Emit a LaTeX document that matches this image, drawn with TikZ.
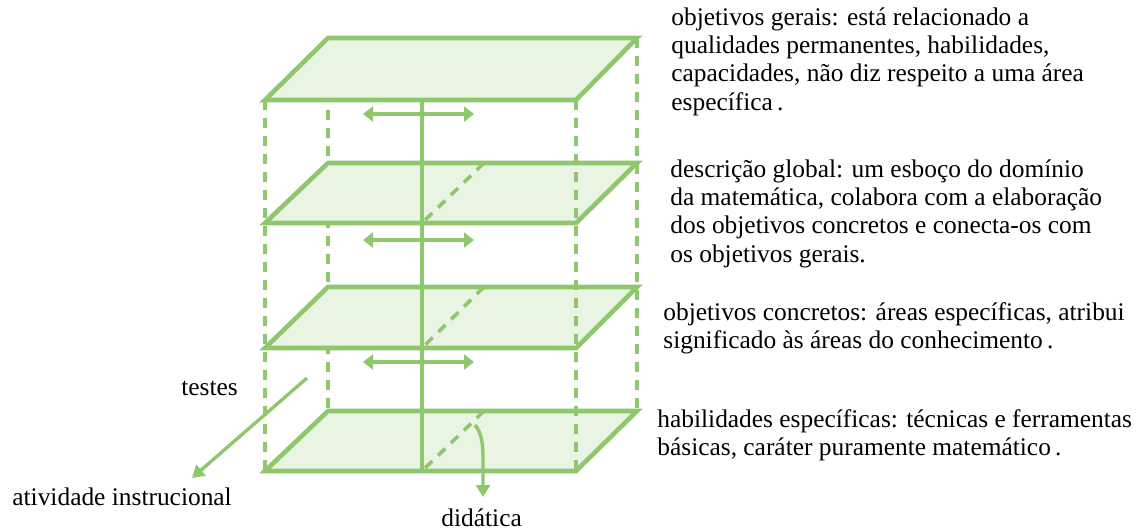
\documentclass[tikz,border=0pt]{standalone}
\usepackage{fontspec}
\setmainfont{Liberation Serif}
\usetikzlibrary{arrows.meta}
\definecolor{gline}{RGB}{143,199,110}
\definecolor{gfill}{RGB}{233,244,226}
\tikzset{
  planeedge/.style={draw=gline, line width=2.3pt, fill=gfill, line join=miter},
  hiddenline/.style={draw=gline, line width=1.8pt, dash pattern=on 5pt off 4pt},
  axisline/.style={draw=gline, line width=1.7pt},
  dblarrow/.style={draw=gline, line width=2.3pt, {Triangle[length=5pt,width=7.5pt]}-{Triangle[length=5pt,width=7.5pt]}},
  onearrow/.style={draw=gline, line width=1.7pt, -{Triangle[length=6pt,width=7pt]}},
  txt/.style={inner sep=0pt, anchor=base west, font=\fontsize{12.7}{14.2}\selectfont},
}
\newcommand{\blocklines}[1]{\begin{tabular}[t]{@{}l@{}}#1\end{tabular}}
\begin{document}
\begin{tikzpicture}[x=0.5pt,y=-0.5pt]
\useasboundingbox (0,0) rectangle (1136,531);
% back dashed verticals
\coordinate (bl1) at (328,38);  \coordinate (bl4) at (328,411);
\coordinate (br1) at (637,38);  \coordinate (br4) at (637,411);
\draw[hiddenline] (bl1) -- (bl4);
\draw[hiddenline] (br1) -- (br4);
% planes
\foreach \b/\f/\n in {38/100/1, 163/223/2, 287/348/3, 411/471/4}{
  \draw[planeedge] (328,\b) coordinate (BL\n) -- (637,\b) coordinate (BR\n)
     -- (576,\f) coordinate (FR\n) -- (265,\f) coordinate (FL\n) -- cycle;
}
% front dashed verticals
\draw[hiddenline] (FL1) -- (FL4);
\draw[hiddenline] (FR1) -- (FR4);
% central divider
\coordinate (c1) at (422,100);
\coordinate (c4) at (422,471);
\draw[axisline] (c1) -- (c4);
\foreach \b/\f/\n in {163/223/2, 287/348/3, 411/471/4}{
  \coordinate (db\n) at (484,\b);
  \coordinate (df\n) at (422,\f);
  \draw[hiddenline] (db\n) -- (df\n);
}
% double arrows
\foreach \y/\n in {114/1, 240/2, 362/3}{
  \coordinate (al\n) at (363,\y);
  \coordinate (ar\n) at (474,\y);
  \draw[dblarrow] (al\n) -- (ar\n);
}
% texts
\node[txt] (t1) at (671,25) {\blocklines{objetivos gerais: está relacionado a\\ qualidades permanentes, habilidades,\\ capacidades, não diz respeito a uma área\\ específica\,.}};
\node[txt] (t2) at (670,177) {\blocklines{descrição global: um esboço do domínio\\ da matemática, colabora com a elaboração\\ dos objetivos concretos e conecta-os com\\ os objetivos gerais.}};
\node[txt] (t3) at (663,320) {\blocklines{objetivos concretos: áreas específicas, atribui\\ significado às áreas do conhecimento\,.}};
\node[txt] (t4) at (657,427) {\blocklines{habilidades específicas: técnicas e ferramentas\\ básicas, caráter puramente matemático\,.}};
% testes arrow
\node[txt] (testes) at (181,395) {testes};
\coordinate (ts) at (307,378);
\node[txt] (ativ) at (12,505) {atividade instrucional};
\coordinate (te) at (192,478);
\draw[onearrow] (ts) -- (te);
% didatica arrow
\coordinate (ds) at (475,425);
\coordinate (de) at (483,497);
\draw[onearrow] (ds) .. controls (482,433) and (483,445) .. (483,460) -- (de);
\node[txt] (did) at (441,526) {didática};
\end{tikzpicture}
\end{document}
